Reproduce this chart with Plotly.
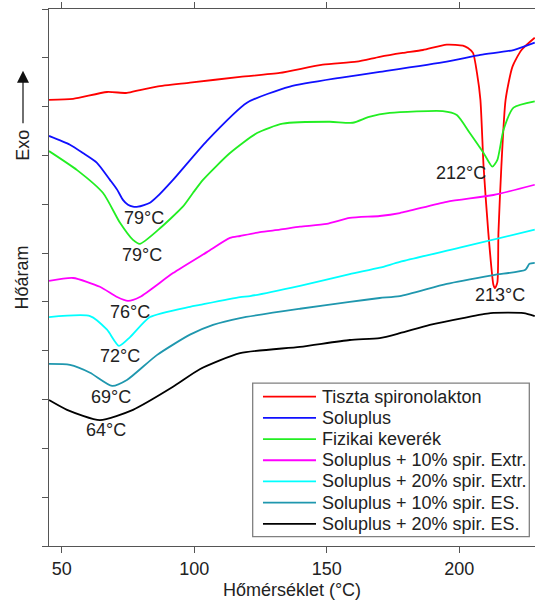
import plotly.graph_objects as go

# ---- data (temperature in °C, heat flow in arbitrary offset units) ----
red_T = [45.2, 54.3, 67.1, 74.6, 79.5, 85.9, 98.4, 117.3, 132.3, 148.5, 161.3, 170.0, 178.7, 186.3, 195.3, 201.4,
         203.3, 205.2, 206.7, 208.0, 209.2, 211.0, 212.9, 213.5, 214.4, 214.8, 215.9, 217.5, 220.1, 223.5, 228.5]
red_y = [9.14, 9.16, 9.30, 9.28, 9.34, 9.41, 9.49, 9.61, 9.69, 9.86, 9.92, 10.02, 10.10, 10.16, 10.27, 10.25,
         10.20, 10.10, 9.69, 9.14, 7.77, 6.41, 5.35, 5.28, 5.40, 6.41, 7.77, 9.14, 9.82, 10.16, 10.41]

blue_T = [45.2, 53.1, 58.0, 63.3, 68.2, 70.9, 73.1, 75.0, 76.9, 78.8, 83.3, 85.9, 92.0, 104.8, 119.9, 136.1,
          154.9, 170.0, 195.3, 208.0, 220.5, 228.5]
blue_y = [8.40, 8.22, 8.05, 7.85, 7.50, 7.30, 7.09, 6.99, 6.95, 6.95, 7.03, 7.15, 7.50, 8.30, 9.08, 9.41,
          9.59, 9.71, 9.92, 10.06, 10.16, 10.31]

green_T = [45.2, 55.8, 65.6, 72.0, 76.9, 79.5, 86.5, 95.7, 99.5, 103.3, 113.5, 123.7, 133.4, 151.2, 159.8,
           166.0, 173.8, 193.8, 199.1, 204.0, 209.2, 212.5, 214.4, 216.7, 220.5, 228.5]
green_y = [8.09, 7.70, 7.23, 6.62, 6.27, 6.19, 6.48, 6.95, 7.23, 7.50, 8.05, 8.46, 8.65, 8.69, 8.67,
           8.79, 8.87, 8.91, 8.83, 8.46, 8.05, 7.77, 7.91, 8.52, 8.98, 9.11]

magenta_T = [45.2, 54.3, 64.4, 70.9, 75.0, 79.5, 92.0, 104.8, 113.5, 117.3, 124.8, 132.3, 139.9, 150.0, 158.7,
             170.0, 177.6, 195.3, 212.9, 228.5]
magenta_y = [5.43, 5.49, 5.31, 5.10, 5.02, 5.10, 5.59, 6.02, 6.31, 6.35, 6.43, 6.48, 6.54, 6.60, 6.72,
             6.76, 6.82, 7.05, 7.19, 7.40]

cyan_T = [45.2, 60.7, 67.1, 71.6, 75.8, 83.3, 98.4, 102.1, 117.3, 121.1, 139.9, 158.7, 170.0, 177.6, 200.2, 228.5]
cyan_y = [4.69, 4.71, 4.43, 4.10, 4.28, 4.69, 4.90, 4.94, 5.10, 5.12, 5.33, 5.57, 5.70, 5.82, 6.11, 6.48]

teal_T = [45.2, 53.1, 60.7, 69.0, 74.6, 85.9, 98.4, 107.1, 117.3, 139.9, 158.7, 170.0,
          177.6, 195.3, 212.9, 225.0, 226.5, 228.5]
teal_y = [3.73, 3.71, 3.55, 3.28, 3.40, 3.91, 4.33, 4.53, 4.67, 4.86, 5.00, 5.08,
          5.12, 5.37, 5.55, 5.66, 5.78, 5.80]

black_T = [45.2, 52.0, 64.4, 76.9, 92.0, 102.1, 117.3, 139.9, 158.7, 170.0, 177.6, 188.9, 201.4, 211.8,
           224.3, 228.5]
black_y = [2.99, 2.79, 2.58, 2.79, 3.26, 3.62, 3.95, 4.08, 4.22, 4.26, 4.36, 4.53, 4.67, 4.77,
           4.77, 4.71]

series_names = ["Tiszta spironolakton", "Soluplus", "Fizikai keverék", "Soluplus + 10% spir. Extr.",
                "Soluplus + 20% spir. Extr.", "Soluplus + 10% spir. ES.", "Soluplus + 20% spir. ES."]
series_colors = ["#ff0000", "#1010ff", "#22ee22", "#ff00ff", "#00ffff", "#1f97ae", "#000000"]
series_T = [red_T, blue_T, green_T, magenta_T, cyan_T, teal_T, black_T]
series_y = [red_y, blue_y, green_y, magenta_y, cyan_y, teal_y, black_y]

peak_labels = ["79°C", "79°C", "76°C", "72°C", "69°C", "64°C", "212°C", "213°C"]
peak_T = [81.0, 80.2, 75.8, 72.0, 68.5, 66.6, 200.8, 215.3]
peak_y = [6.72, 5.96, 4.80, 3.89, 3.05, 2.38, 7.64, 5.14]

x_ticks = [50, 100, 150, 200]
y_ticks = list(range(0, 12))

FONT = "Arial, Liberation Sans, sans-serif"
TXT = "#222"
FS = 18

fig = go.Figure()
for name, col, T, y in zip(series_names, series_colors, series_T, series_y):
    fig.add_trace(go.Scatter(x=T, y=y, mode="lines", name=name, showlegend=False,
                             line=dict(color=col, width=1.8, shape="spline", smoothing=0.6)))

for lab, T, y in zip(peak_labels, peak_T, peak_y):
    fig.add_annotation(x=T, y=y, text=lab, showarrow=False,
                       font=dict(size=FS, color=TXT, family=FONT))

# Exo arrow
fig.add_annotation(xref="paper", yref="paper", x=-0.0535, y=0.747, text="Exo", textangle=-90,
                   xanchor="center", yanchor="middle",
                   showarrow=False, font=dict(size=FS, color=TXT, family=FONT))
fig.add_annotation(xref="paper", yref="paper", x=-0.0535, y=0.885, ax=0, ay=54,
                   text="", showarrow=True,
                   arrowhead=2, arrowsize=2, arrowwidth=1.2, arrowcolor="#111")

# legend box (drawn in paper coordinates)
lg_x0, lg_x1, lg_y0, lg_y1 = 0.4191, 0.9883, 0.0173, 0.3032
fig.add_shape(type="rect", xref="paper", yref="paper", x0=lg_x0, x1=lg_x1, y0=lg_y0, y1=lg_y1,
              line=dict(color="#808080", width=1.3), fillcolor="white", layer="above")
row0, row_step = 0.2782, 0.0395
for i, (name, col) in enumerate(zip(series_names, series_colors)):
    yy = row0 - i * row_step
    fig.add_shape(type="line", xref="paper", yref="paper", x0=0.4403, x1=0.5494, y0=yy, y1=yy,
                  line=dict(color=col, width=1.8), layer="above")
    fig.add_annotation(xref="paper", yref="paper", x=0.557, y=yy, text=name, showarrow=False,
                       xanchor="left", yanchor="middle",
                       font=dict(size=FS, color=TXT, family=FONT))

fig.update_layout(
    width=536, height=600,
    margin=dict(l=49, r=1, t=9, b=54),
    paper_bgcolor="white", plot_bgcolor="white",
    font=dict(family=FONT, size=FS, color=TXT),
    showlegend=False,
    xaxis=dict(range=[45.2, 228.6], tickvals=x_ticks, ticks="outside", ticklen=6,
               showline=True, linecolor="#555", linewidth=1.2, mirror="ticks",
               tickcolor="#555", showgrid=False, zeroline=False,
               title=dict(text="Hőmérséklet (°C)", standoff=6, font=dict(size=FS)),
               automargin=False),
    yaxis=dict(range=[0, 11], tickvals=y_ticks, showticklabels=False, ticks="outside", ticklen=6,
               showline=True, linecolor="#555", linewidth=1.2, mirror=False,
               tickcolor="#555", showgrid=False, zeroline=False,
               title=dict(text="Hőáram", standoff=8, font=dict(size=FS)),
               automargin=False),
)

fig.write_html("out.html")
